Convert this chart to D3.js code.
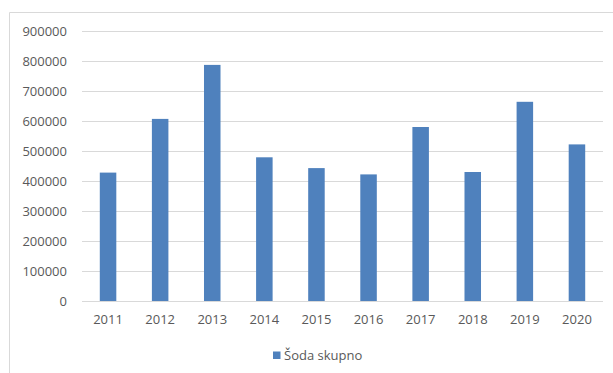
<!DOCTYPE html>
<html><head><meta charset="utf-8">
<script src="https://cdn.jsdelivr.net/npm/d3@7"></script>
<style>html,body{margin:0;padding:0;background:#fff;}svg{display:block;}</style>
</head><body>
<svg id="chart" width="613" height="373"></svg>
<script>
const categories = ["2011","2012","2013","2014","2015","2016","2017","2018","2019","2020"];
const values = [428000, 607000, 787000, 479000, 443000, 422000, 580000, 430000, 664000, 522000];
const yTicks = [0,100000,200000,300000,400000,500000,600000,700000,800000,900000];
const seriesName = "Šoda skupno";

(function(){
const svg = d3.select("#chart");
const font = "'Open Sans', sans-serif";
const textColor = "#595959";
const barColor = "#4f81bd";
const gridColor = "#d9d9d9";

// chart area border (left and top visible)
svg.append("path").attr("d","M9.5,373 V12.5 H613").attr("fill","none").attr("stroke","#d9d9d9").attr("stroke-width",1);

const pLeft = 82, pRight = 603, pTop = 31, pBottom = 301;
const x = d3.scaleBand().domain(categories).range([pLeft,pRight]).paddingInner(0.683).paddingOuter(0.683/2);
const y = d3.scaleLinear().domain([0,900000]).range([pBottom,pTop]);

// gridlines
svg.append("g").selectAll("line").data(yTicks).join("line")
  .attr("x1",pLeft).attr("x2",pRight)
  .attr("y1",d=>Math.round(y(d))+0.5).attr("y2",d=>Math.round(y(d))+0.5)
  .attr("stroke",gridColor).attr("stroke-width",1);

// y axis labels
const yAxis = d3.axisLeft(y).tickValues(yTicks).tickSize(0).tickPadding(15).tickFormat(d=>String(d));
const gy = svg.append("g").attr("transform",`translate(${pLeft},0)`).call(yAxis);
gy.select(".domain").remove();
gy.selectAll("text").attr("fill",textColor).attr("font-family",font).attr("font-size","13px");

// bars
svg.append("g").selectAll("rect").data(values).join("rect")
  .attr("x",(d,i)=>x(categories[i]))
  .attr("width",x.bandwidth())
  .attr("y",d=>y(d))
  .attr("height",d=>y(0)-y(d))
  .attr("fill",barColor);

// x axis
const xAxis = d3.axisBottom(x).tickSize(0).tickPadding(14);
const gx = svg.append("g").attr("transform",`translate(0,${pBottom})`).call(xAxis);
gx.select(".domain").remove();
gx.selectAll("text").attr("fill",textColor).attr("font-family",font).attr("font-size","13px");

// legend
const lg = svg.append("g").attr("transform","translate(273,351.5)");
lg.append("rect").attr("width",7.5).attr("height",7.5).attr("fill",barColor);
lg.append("text").attr("x",11).attr("y",4).attr("dy","0.35em").text(seriesName)
  .attr("fill",textColor).attr("font-family",font).attr("font-size","13px");
})();
</script>
</body></html>
